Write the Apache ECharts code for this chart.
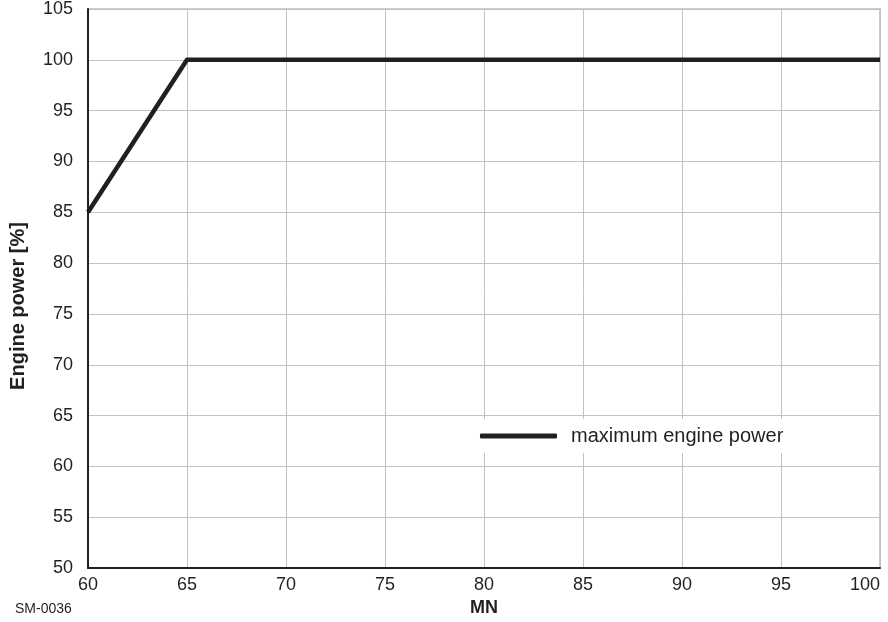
<!DOCTYPE html>
<html>
<head>
<meta charset="utf-8">
<script src="https://cdn.jsdelivr.net/npm/echarts@6/dist/echarts.min.js"></script>
<style>html,body{margin:0;padding:0;background:#fff;}#c{width:888px;height:622px;}</style>
</head>
<body>
<div id="c"></div>
<script>
const mnValues = [60, 65, 100];
const powerValues = [85, 100, 100];
const seriesName = 'maximum engine power';
const xTitle = 'MN';
const yTitle = 'Engine power [%]';
const codeLabel = 'SM-0036';

const chart = echarts.init(document.getElementById('c'), null, {renderer: 'canvas'});
const font = '"Liberation Sans", Arial, sans-serif';
const ink = '#231f20';
chart.setOption({
  animation: false,
  backgroundColor: '#fff',
  textStyle: {fontFamily: font},
  grid: {left: 88, right: 8, top: 9, bottom: 53, show: true, borderColor: '#cccccc', borderWidth: 2},
  xAxis: {
    type: 'value', min: 60, max: 100, interval: 5,
    name: xTitle, nameLocation: 'middle', nameGap: 29,
    nameTextStyle: {fontFamily: font, fontWeight: 'bold', fontSize: 18, color: ink},
    axisLine: {show: true, onZero: false, lineStyle: {color: ink, width: 2}},
    axisTick: {show: false},
    axisLabel: {fontFamily: font, fontSize: 18, color: ink, margin: 8, alignMaxLabel: 'right'},
    splitLine: {show: true, lineStyle: {color: '#c2c2c2', width: 1}}
  },
  yAxis: {
    type: 'value', min: 50, max: 105, interval: 5,
    axisLine: {show: true, onZero: false, lineStyle: {color: ink, width: 2}},
    axisTick: {show: false},
    axisLabel: {fontFamily: font, fontSize: 18, color: ink, margin: 15},
    splitLine: {show: true, lineStyle: {color: '#c2c2c2', width: 1}}
  },
  legend: {
    left: 476, top: 419, padding: [7, 4, 7, 4],
    backgroundColor: '#fff',
    icon: 'roundRect', itemWidth: 77, itemHeight: 5,
    textStyle: {fontFamily: font, fontSize: 20, color: ink, padding: [0, 0, 0, 9]},
    data: [seriesName]
  },
  graphic: [{
    type: 'text', left: 15, top: 602,
    style: {text: codeLabel, font: '14px "Liberation Sans", Arial, sans-serif', fill: ink}
  }, {
    type: 'text', x: 18, y: 306, rotation: Math.PI / 2,
    style: {text: yTitle, font: 'bold 20px "Liberation Sans", Arial, sans-serif', fill: ink,
            align: 'center', verticalAlign: 'middle'}
  }],
  series: [{
    name: seriesName, type: 'line',
    data: mnValues.map((x, i) => [x, powerValues[i]]),
    symbol: 'none', clip: false,
    itemStyle: {color: ink},
    lineStyle: {color: ink, width: 4.5, join: 'round'}
  }]
});
</script>
</body>
</html>
